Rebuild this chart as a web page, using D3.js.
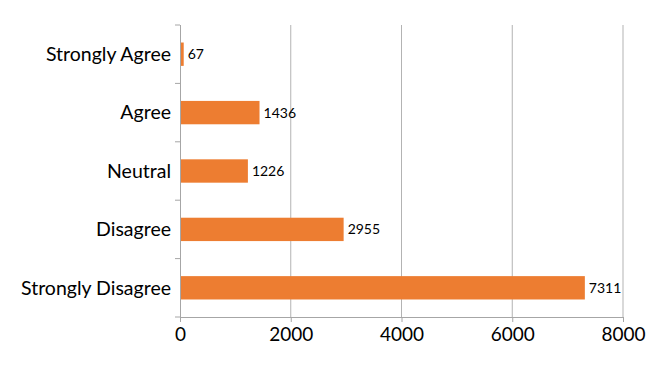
<!DOCTYPE html>
<html>
<head>
<meta charset="utf-8">
<script src="https://cdn.jsdelivr.net/npm/d3@7"></script>
<style>
  body { margin: 0; background: #fff; }
  svg { display: block; font-family: Lato, "Open Sans", sans-serif; }
</style>
</head>
<body>
<svg id="chart"></svg>
<script>
const categories = ["Strongly Agree", "Agree", "Neutral", "Disagree", "Strongly Disagree"];
const counts = [67, 1436, 1226, 2955, 7311];
const xTicks = [0, 2000, 4000, 6000, 8000];

const width = 665, height = 365;
const margin = { top: 25, right: 42, bottom: 48, left: 180 };

const svg = d3.select("#chart")
    .attr("width", width)
    .attr("height", height);

const x = d3.scaleLinear()
    .domain([0, 8000])
    .range([margin.left, width - margin.right]);

const y = d3.scaleBand()
    .domain(categories)
    .range([margin.top, height - margin.bottom])
    .paddingInner(0.6)
    .paddingOuter(0.3);

// vertical gridlines
svg.append("g")
    .selectAll("line")
    .data(xTicks.slice(1))
    .enter().append("line")
    .attr("x1", d => x(d)).attr("x2", d => x(d))
    .attr("y1", margin.top).attr("y2", height - margin.bottom)
    .attr("stroke", "#b3b3b3")
    .attr("stroke-width", 1);

// bars
svg.append("g")
    .selectAll("rect")
    .data(categories)
    .enter().append("rect")
    .attr("x", x(0))
    .attr("y", d => y(d))
    .attr("width", (d, i) => x(counts[i]) - x(0))
    .attr("height", y.bandwidth())
    .attr("fill", "#ed7d31");

// value labels
svg.append("g")
    .selectAll("text")
    .data(categories)
    .enter().append("text")
    .attr("x", (d, i) => x(counts[i]) + 4)
    .attr("y", d => y(d) + y.bandwidth() / 2)
    .attr("dy", "0.35em")
    .attr("font-size", "14px")
    .attr("fill", "#000")
    .text((d, i) => counts[i]);

// y axis: ticks sit on band boundaries
const yAxis = svg.append("g").attr("transform", `translate(${margin.left},0)`);
const bandEdge = i => margin.top + i * (height - margin.top - margin.bottom) / categories.length;
yAxis.append("line")
    .attr("x1", 0.5).attr("x2", 0.5)
    .attr("y1", margin.top).attr("y2", height - margin.bottom + 5)
    .attr("stroke", "#a6a6a6");
yAxis.selectAll("line.tick")
    .data(d3.range(categories.length + 1))
    .enter().append("line")
    .attr("class", "tick")
    .attr("x1", -5).attr("x2", 0)
    .attr("y1", bandEdge)
    .attr("y2", bandEdge)
    .attr("stroke", "#a6a6a6");
yAxis.selectAll("text")
    .data(categories)
    .enter().append("text")
    .attr("x", -9)
    .attr("y", d => y(d) + y.bandwidth() / 2)
    .attr("dy", "0.35em")
    .attr("text-anchor", "end")
    .attr("font-size", "19.5px")
    .attr("fill", "#000")
    .text(d => d);

// x axis
const xAxis = svg.append("g")
    .attr("transform", `translate(0,${height - margin.bottom})`)
    .call(d3.axisBottom(x).tickValues(xTicks).tickFormat(d3.format("d")).tickSize(5).tickPadding(6));
xAxis.select(".domain").attr("stroke", "#a6a6a6");
xAxis.selectAll(".tick line").attr("stroke", "#a6a6a6");
xAxis.selectAll(".tick text")
    .attr("font-size", "19px")
    .attr("font-family", "Lato, sans-serif")
    .attr("fill", "#000");
</script>
</body>
</html>
